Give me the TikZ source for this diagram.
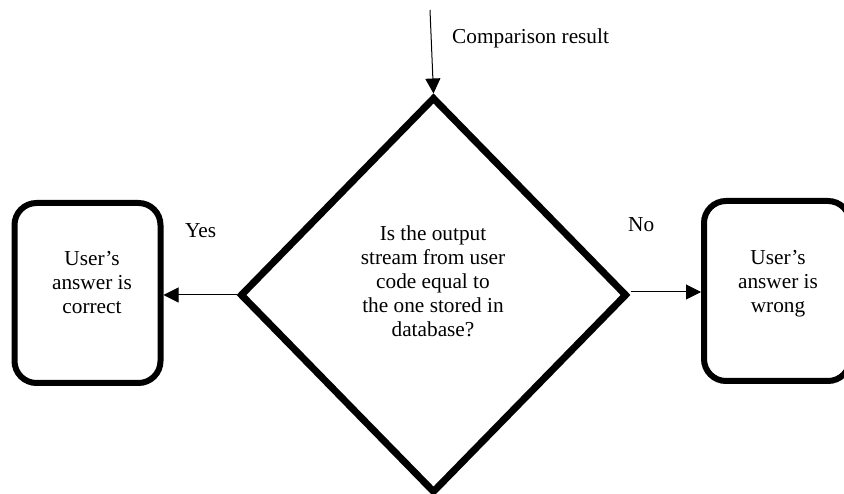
\documentclass[tikz,border=0pt]{standalone}
\usepackage{fontspec}
\setmainfont{Liberation Serif}
\usetikzlibrary{shapes.geometric,arrows.meta}
\begin{document}
\begin{tikzpicture}[x=1pt,y=-1pt,
  every node/.style={font=\fontsize{21.3}{24}\selectfont},
  outcome/.style={draw, line width=6pt, rounded corners=22pt,
    minimum width=146pt, minimum height=180pt, inner sep=0pt},
  decision/.style={draw, diamond, line width=7pt,
    minimum width=387pt, minimum height=396pt, inner sep=0pt},
  txt/.style={inner sep=0pt, align=center},
  flow/.style={line width=1pt, -{Triangle[length=15pt,width=15pt]}}]
  \useasboundingbox (0,0) rectangle (844,494);

  % shapes
  \node[decision] (dec) at (433.5,295) {};
  \node[outcome] (lbox) at (87.5,293) {};
  \node[outcome] (rbox) at (777,291) {};

  % texts
  \node[txt, anchor=north] (dtext) at (433,226)
    {Is the output\\stream from user\\code equal to\\the one stored in\\database?};
  \node[txt, anchor=north] (ltext) at (92,251.5)
    {User’s\\answer is\\correct};
  \node[txt, anchor=north] (rtext) at (778,250.5)
    {User’s\\answer is\\wrong};
  \node[txt, anchor=base west] (cmp) at (452,44) {Comparison result};
  \node[txt, anchor=base west] (yes) at (185,238) {Yes};
  \node[txt, anchor=base west] (no) at (628,232) {No};

  % connectors
  \coordinate (src) at (430,10);
  \draw[flow] (src) -- (dec.north);
  \draw[flow] (dec.west) -- (dec.west -| lbox.east);
  \draw[flow] ([yshift=3pt]dec.east) -- ([yshift=3pt]dec.east -| rbox.west);
\end{tikzpicture}
\end{document}
